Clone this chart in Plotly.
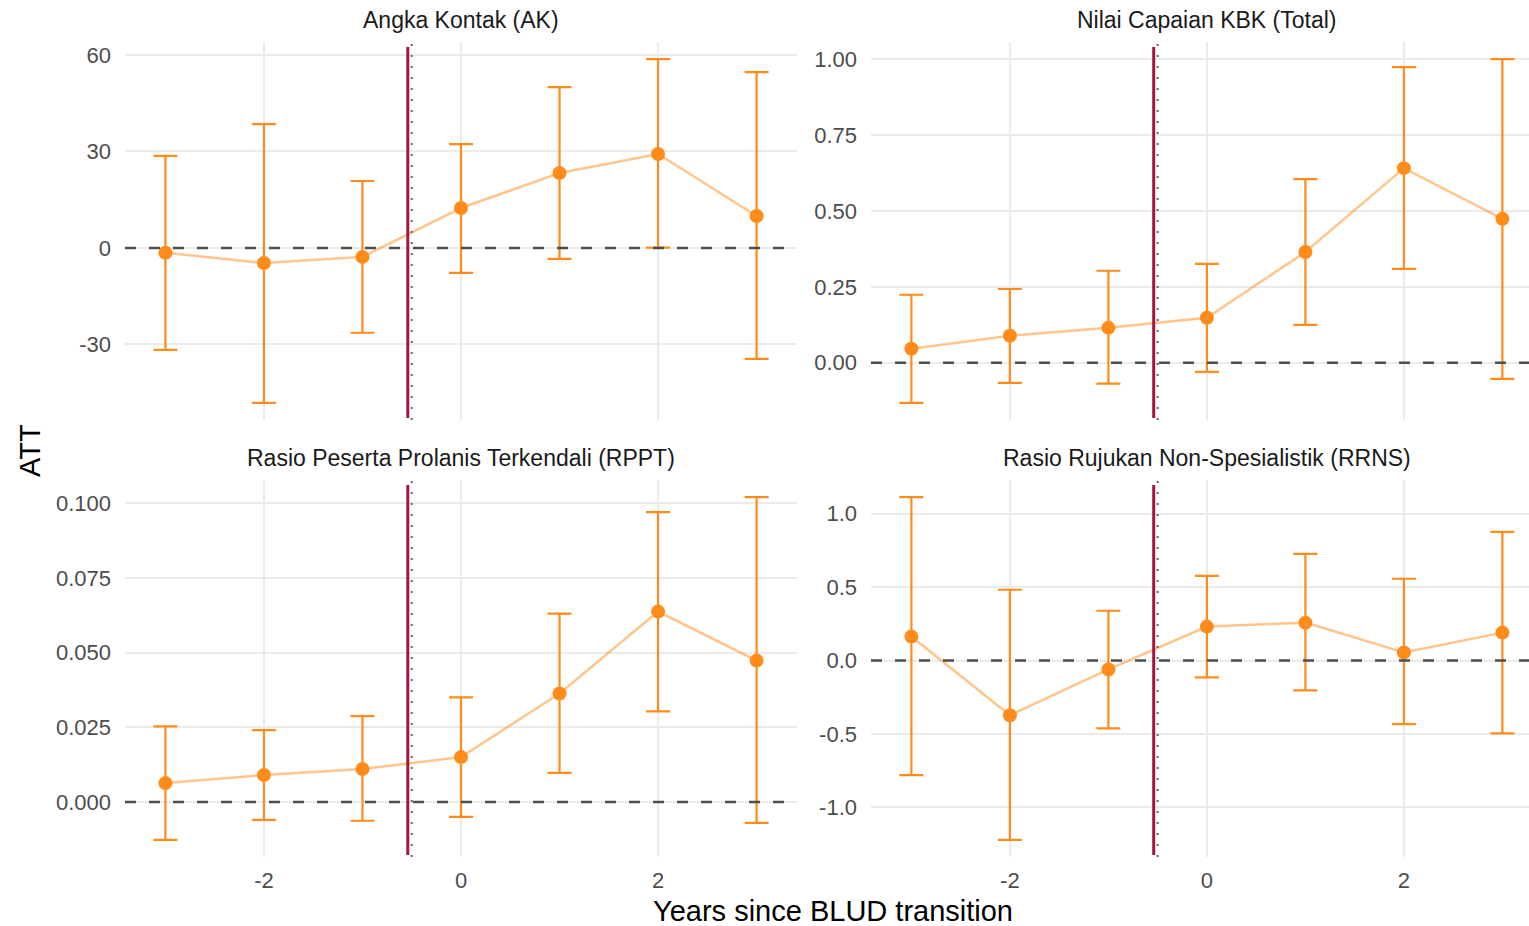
import plotly.graph_objects as go

W, H = 1529, 926

years = [-3, -2, -1, 0, 1, 2, 3]

titles = ["Angka Kontak (AK)", "Nilai Capaian KBK (Total)",
          "Rasio Peserta Prolanis Terkendali (RPPT)", "Rasio Rujukan Non-Spesialistik (RRNS)"]

ak_att = [-1.5, -4.7, -2.8, 12.4, 23.3, 29.2, 9.9]
ak_lo = [-31.7, -48.2, -26.4, -7.8, -3.4, 0.1, -34.5]
ak_hi = [28.6, 38.5, 20.8, 32.3, 50.0, 58.7, 54.7]

kbk_att = [0.046, 0.089, 0.115, 0.148, 0.365, 0.641, 0.474]
kbk_lo = [-0.132, -0.066, -0.069, -0.030, 0.125, 0.309, -0.053]
kbk_hi = [0.224, 0.243, 0.303, 0.326, 0.605, 0.974, 1.000]

rppt_att = [0.0063, 0.0090, 0.0110, 0.0150, 0.0363, 0.0637, 0.0473]
rppt_lo = [-0.0127, -0.0060, -0.0063, -0.0050, 0.0097, 0.0303, -0.0070]
rppt_hi = [0.0253, 0.0240, 0.0287, 0.0350, 0.0630, 0.0970, 0.1020]

rrns_att = [0.163, -0.373, -0.061, 0.231, 0.258, 0.054, 0.190]
rrns_lo = [-0.781, -1.222, -0.462, -0.115, -0.204, -0.434, -0.496]
rrns_hi = [1.113, 0.482, 0.339, 0.577, 0.726, 0.557, 0.876]

x_ticks = [-2, 0, 2]
y_ticks = [
    ([-30, 0, 30, 60], ["-30", "0", "30", "60"]),
    ([0.0, 0.25, 0.5, 0.75, 1.0], ["0.00", "0.25", "0.50", "0.75", "1.00"]),
    ([0.0, 0.025, 0.05, 0.075, 0.1], ["0.000", "0.025", "0.050", "0.075", "0.100"]),
    ([-1.0, -0.5, 0.0, 0.5, 1.0], ["-1.0", "-0.5", "0.0", "0.5", "1.0"]),
]
series = [(ak_att, ak_lo, ak_hi), (kbk_att, kbk_lo, kbk_hi),
          (rppt_att, rppt_lo, rppt_hi), (rrns_att, rrns_lo, rrns_hi)]

# panel pixel boxes (left, right, top, bottom)
panels = [(125, 797, 42, 420), (871, 1529, 42, 420),
          (125, 797, 480, 857), (871, 1529, 480, 857)]
x_ranges = [[-3.41, 3.41], [-3.41, 3.27], [-3.41, 3.41], [-3.41, 3.27]]

ORANGE = "#FF8C1A"
LINE = "rgba(255,140,26,0.5)"
RED = "#A6163C"

fig = go.Figure()
layout = dict(width=W, height=H, margin=dict(l=0, r=0, t=0, b=0),
              paper_bgcolor="white", plot_bgcolor="white", showlegend=False,
              font=dict(family="Liberation Sans, Arial, sans-serif"))
shapes, annotations = [], []

for i, ((att, lo, hi), (l, r, t, b)) in enumerate(zip(series, panels)):
    n = i + 1
    xa = "x" if n == 1 else f"x{n}"
    ya = "y" if n == 1 else f"y{n}"
    xkey = "xaxis" if n == 1 else f"xaxis{n}"
    ykey = "yaxis" if n == 1 else f"yaxis{n}"
    ymin = min(lo); ymax = max(hi); pad = 0.05 * (ymax - ymin)
    layout[xkey] = dict(domain=[l / W, r / W], range=x_ranges[i], anchor=ya,
                        tickvals=x_ticks, ticktext=[str(v) for v in x_ticks],
                        showticklabels=(i >= 2), showgrid=True, gridcolor="#EBEBEB",
                        gridwidth=2, zeroline=False, showline=False, ticks="",
                        ticklabelstandoff=8, tickfont=dict(size=22, color="#4D4D4D"))
    layout[ykey] = dict(domain=[1 - b / H, 1 - t / H], range=[ymin - pad, ymax + pad], anchor=xa,
                        tickvals=y_ticks[i][0], ticktext=y_ticks[i][1],
                        showgrid=True, gridcolor="#EBEBEB", gridwidth=2, zeroline=False,
                        showline=False, ticks="", ticklabelstandoff=13,
                        tickfont=dict(size=22, color="#4D4D4D"))
    # zero line
    shapes.append(dict(type="line", xref=f"{xa} domain", yref=ya, x0=0, x1=1, y0=0, y1=0,
                       line=dict(color="#4D4D4D", width=2.5, dash="11px,13px"), layer="above"))
    # dotted reference and red transition line
    shapes.append(dict(type="line", xref=xa, yref=f"{ya} domain", x0=-0.5, x1=-0.5, y0=0, y1=1,
                       line=dict(color="#666666", width=2, dash="2px,9px"), layer="above"))
    shapes.append(dict(type="line", xref=xa, yref=f"{ya} domain", x0=-0.54, x1=-0.54,
                       y0=0.005, y1=0.987, line=dict(color=RED, width=3), layer="above"))
    fig.add_trace(go.Scatter(x=years, y=att, mode="lines", line=dict(color=LINE, width=2.5),
                             xaxis=xa, yaxis=ya, hoverinfo="skip"))
    fig.add_trace(go.Scatter(x=years, y=att, mode="markers",
                             marker=dict(color=ORANGE, size=14),
                             error_y=dict(type="data", symmetric=False,
                                          array=[h - a for h, a in zip(hi, att)],
                                          arrayminus=[a - lo_ for a, lo_ in zip(att, lo)],
                                          color=ORANGE, thickness=2.2, width=12),
                             xaxis=xa, yaxis=ya))
    cx = (l + (r if i % 2 == 0 else 1543)) / 2
    annotations.append(dict(text=titles[i], x=cx / W, y=1 - (t - 22) / H, xref="paper", yref="paper",
                            showarrow=False, font=dict(size=23, color="#1A1A1A"),
                            xanchor="center", yanchor="middle"))

annotations.append(dict(text="ATT", x=30 / W, y=1 - 450 / H, xref="paper", yref="paper",
                        showarrow=False, textangle=-90, font=dict(size=29, color="#000000"),
                        xanchor="center", yanchor="middle"))
annotations.append(dict(text="Years since BLUD transition", x=833 / W, y=1 - 911 / H,
                        xref="paper", yref="paper", showarrow=False,
                        font=dict(size=29, color="#000000"), xanchor="center", yanchor="middle"))
layout["shapes"] = shapes
layout["annotations"] = annotations
fig.update_layout(**layout)
fig.write_html("out.html")
